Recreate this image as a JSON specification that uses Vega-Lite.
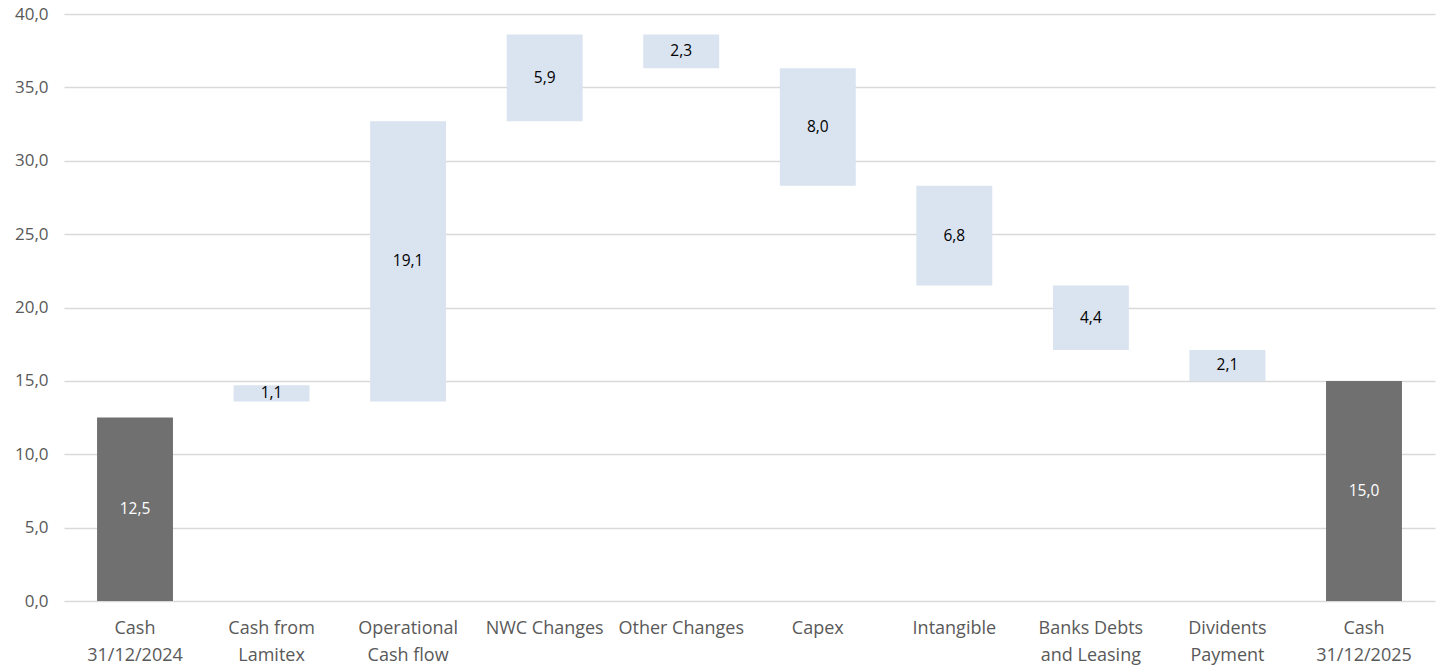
{
  "$schema": "https://vega.github.io/schema/vega-lite/v6.json",
  "autosize": "none",
  "width": 1371,
  "height": 587,
  "padding": {"left": 64, "top": 14, "right": 4, "bottom": 67},
  "background": "white",
  "config": {
    "view": {"stroke": null},
    "font": "Open Sans",
    "locale": {"number": {"decimal": ",", "thousands": ".", "grouping": [3], "currency": ["", " €"]}}
  },
  "data": {
    "values": [
      {"cat": "Cash|31/12/2024", "start": 0, "end": 12.5, "amount": 12.5, "kind": "total"},
      {"cat": "Cash from|Lamitex", "start": 13.6, "end": 14.7, "amount": 1.1, "kind": "delta"},
      {"cat": "Operational|Cash flow", "start": 13.6, "end": 32.7, "amount": 19.1, "kind": "delta"},
      {"cat": "NWC Changes", "start": 32.7, "end": 38.6, "amount": 5.9, "kind": "delta"},
      {"cat": "Other Changes", "start": 36.3, "end": 38.6, "amount": 2.3, "kind": "delta"},
      {"cat": "Capex", "start": 28.3, "end": 36.3, "amount": 8.0, "kind": "delta"},
      {"cat": "Intangible", "start": 21.5, "end": 28.3, "amount": 6.8, "kind": "delta"},
      {"cat": "Banks Debts|and Leasing", "start": 17.1, "end": 21.5, "amount": 4.4, "kind": "delta"},
      {"cat": "Dividents|Payment", "start": 15.0, "end": 17.1, "amount": 2.1, "kind": "delta"},
      {"cat": "Cash|31/12/2025", "start": 0, "end": 15.0, "amount": 15.0, "kind": "total"}
    ]
  },
  "transform": [{"calculate": "(datum.start + datum.end) / 2", "as": "mid"}],
  "encoding": {
    "x": {
      "field": "cat",
      "type": "nominal",
      "sort": null,
      "scale": {"paddingInner": 0.444, "paddingOuter": 0.242},
      "axis": {
        "title": null,
        "labelAngle": 0,
        "labelExpr": "split(datum.value, '|')",
        "labelFontSize": 18,
        "labelColor": "#595959",
        "labelLineHeight": 27,
        "labelPadding": 18,
        "ticks": false,
        "domain": false
      }
    }
  },
  "layer": [
    {
      "mark": {"type": "bar"},
      "encoding": {
        "y": {
          "field": "start",
          "type": "quantitative",
          "scale": {"domain": [0, 40], "nice": false},
          "axis": {
            "title": null,
            "values": [0, 5, 10, 15, 20, 25, 30, 35, 40],
            "format": ".1f",
            "labelFontSize": 17,
            "labelColor": "#595959",
            "labelPadding": 16,
            "ticks": false,
            "domain": false,
            "gridColor": "#d9d9d9",
            "gridWidth": 1.5
          }
        },
        "y2": {"field": "end"},
        "color": {
          "field": "kind",
          "type": "nominal",
          "scale": {"domain": ["total", "delta"], "range": ["#707070", "#dae3f0"]},
          "legend": null
        }
      }
    },
    {
      "mark": {"type": "text", "fontSize": 15.5, "baseline": "middle"},
      "encoding": {
        "y": {"field": "mid", "type": "quantitative"},
        "text": {"field": "amount", "type": "quantitative", "format": ".1f"},
        "color": {
          "field": "kind",
          "type": "nominal",
          "scale": {"domain": ["total", "delta"], "range": ["#ffffff", "#000000"]},
          "legend": null
        }
      }
    }
  ],
  "resolve": {"scale": {"color": "independent"}}
}
